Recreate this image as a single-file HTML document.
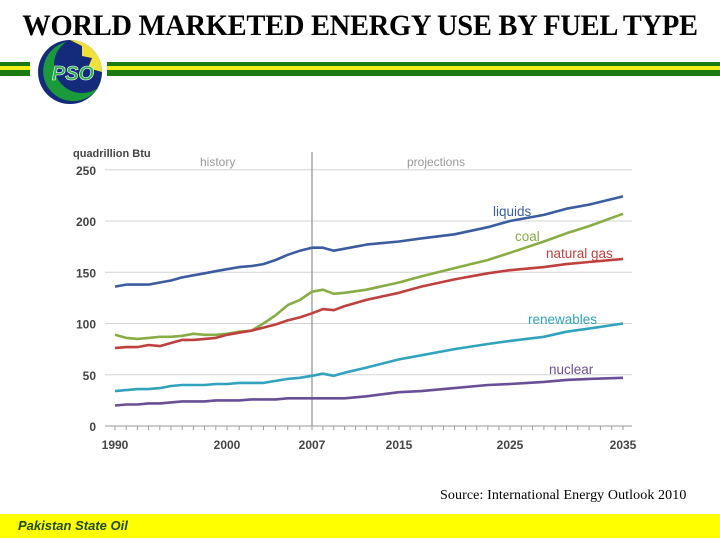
<!DOCTYPE html>
<html><head><meta charset="utf-8">
<style>
body{margin:0;width:720px;height:540px;background:#fff;position:relative;overflow:hidden;font-family:"Liberation Sans",sans-serif}
.abs{position:absolute}
</style></head><body>
<div class="abs" style="left:0;top:9px;width:720px;text-align:center;font-family:'Liberation Serif',serif;font-weight:bold;font-size:30px;line-height:34px;color:#000;letter-spacing:-0.3px;transform:scaleX(0.95);transform-origin:360px 0;white-space:nowrap">WORLD MARKETED ENERGY USE BY FUEL TYPE</div>
<div class="abs" style="left:0;top:62px;width:30px;height:14px;background:#1c7a12"></div>
<div class="abs" style="left:0;top:66px;width:30px;height:4px;background:#f4ee1a"></div>
<div class="abs" style="left:107px;top:62px;width:613px;height:14px;background:#1c7a12"></div>
<div class="abs" style="left:107px;top:66px;width:613px;height:4px;background:#f4ee1a"></div>
<svg class="abs" style="left:36px;top:38px" width="68" height="68" viewBox="0 0 68 68">
<circle cx="34" cy="34" r="32" fill="#142a7a"/>
<path d="M34 2 A32 32 0 0 1 66 34 L52 30 L56 20 L46 18 L46 8 Z" fill="#f0e23a"/>
<path d="M30 4 A30 30 0 1 0 62 50 A24 24 0 1 1 30 4 Z" fill="#1b9a3c"/>
<text x="37" y="42" text-anchor="middle" font-family="Liberation Sans" font-weight="bold" font-style="italic" font-size="20" fill="#2ab04a" stroke="#fff" stroke-width="0.6">PSO</text>
</svg>
<svg class="abs" id="chart" style="left:0;top:0" width="720" height="540"></svg>
<div class="abs" style="left:440px;top:488px;font-family:'Liberation Serif',serif;font-size:14px;color:#000;letter-spacing:0.1px">Source: International Energy Outlook 2010</div>
<div class="abs" style="left:0;top:514px;width:720px;height:24px;background:#ffff00"></div>
<div class="abs" style="left:18px;top:518px;font-size:13px;font-weight:bold;font-style:italic;color:#1e4a14">Pakistan State Oil</div>
<script>
const years=[1990,1991,1992,1993,1994,1995,1996,1997,1998,1999,2000,2001,2002,2003,2004,2005,2006,2007,2008,2009,2010,2012,2015,2017,2020,2023,2025,2028,2030,2032,2035];
const liquids=[136,138,138,138,140,142,145,147,149,151,153,155,156,158,162,167,171,174,174,171,173,177,180,183,187,194,200,206,212,216,224];
const coal=[89,86,85,86,87,87,88,90,89,89,90,92,93,100,108,118,123,131,133,129,130,133,140,146,154,162,169,180,188,195,207];
const gas=[76,77,77,79,78,81,84,84,85,86,89,91,93,96,99,103,106,110,114,113,117,123,130,136,143,149,152,155,158,160,163];
const renew=[34,35,36,36,37,39,40,40,40,41,41,42,42,42,44,46,47,49,51,49,52,57,65,69,75,80,83,87,92,95,100];
const nuclear=[20,21,21,22,22,23,24,24,24,25,25,25,26,26,26,27,27,27,27,27,27,29,33,34,37,40,41,43,45,46,47];
const yTicks=[0,50,100,150,200,250];
const xTicks=[1990,2000,2007,2015,2025,2035];
const xTickPx=[115,227,312,399,510,623];
const colors={liquids:"#3b5da0",coal:"#88ad44",gas:"#c0403e",renew:"#31a3bf",nuclear:"#6a4e96"};
function xs(v){for(let i=0;i<xTicks.length-1;i++){if(v<=xTicks[i+1]){return xTickPx[i]+(v-xTicks[i])/(xTicks[i+1]-xTicks[i])*(xTickPx[i+1]-xTickPx[i]);}}return xTickPx[xTickPx.length-1];}
function ys(v){return 426-v*1.025;}
const svg=document.getElementById('chart');const NS="http://www.w3.org/2000/svg";
function mk(t,a,txt){const e=document.createElementNS(NS,t);for(const k in a)e.setAttribute(k,a[k]);if(txt!==undefined)e.textContent=txt;svg.appendChild(e);return e;}
yTicks.forEach(t=>{
 if(t>0){const g=mk('line',{x1:105,x2:632,y1:ys(t),y2:ys(t),stroke:'#d4d4d4','stroke-width':1});
 
 }
 const l=mk('text',{x:96,y:ys(t)+5,'text-anchor':'end','font-size':12,'font-weight':'bold',fill:'#444'},String(t));
 
 
});
const ax=mk('line',{x1:105,x2:632,y1:426,y2:426,stroke:'#999','stroke-width':1});


for(let yr=1990;yr<=2035;yr++){const tk=mk('line',{x1:xs(yr),x2:xs(yr),y1:426,y2:430,stroke:'#999','stroke-width':1});
 
 }
xTicks.forEach(t=>{const l=mk('text',{x:xs(t),y:449,'text-anchor':'middle','font-size':12,'font-weight':'bold',fill:'#444'},String(t));
 
 });
const dv=mk('line',{x1:xs(2007),x2:xs(2007),y1:152,y2:426,stroke:'#999','stroke-width':1.3});


const yt=mk('text',{x:73,y:157,'font-size':11,'font-weight':'bold',fill:'#444'},'quadrillion Btu');


const h=mk('text',{x:200,y:166,'font-size':12,fill:'#999'},'history');


const p=mk('text',{x:407,y:166,'font-size':12,fill:'#999'},'projections');


const series=[['liquids',liquids,'liquids',493,216],['coal',coal,'coal',515,241],['gas',gas,'natural gas',546,258],['renew',renew,'renewables',528,324],['nuclear',nuclear,'nuclear',549,374]];
series.forEach(s=>{
 const d=years.map((y,i)=>(i?'L':'M')+xs(y).toFixed(1)+' '+ys(s[1][i]).toFixed(1)).join(' ');
 const pa=mk('path',{d:d,fill:'none',stroke:colors[s[0]],'stroke-width':2.6,'stroke-linejoin':'round'});
 
 
 const lb=mk('text',{x:s[3],y:s[4],'font-size':13.5,fill:colors[s[0]]},s[2]);
 
 
});
</script>
</body></html>
